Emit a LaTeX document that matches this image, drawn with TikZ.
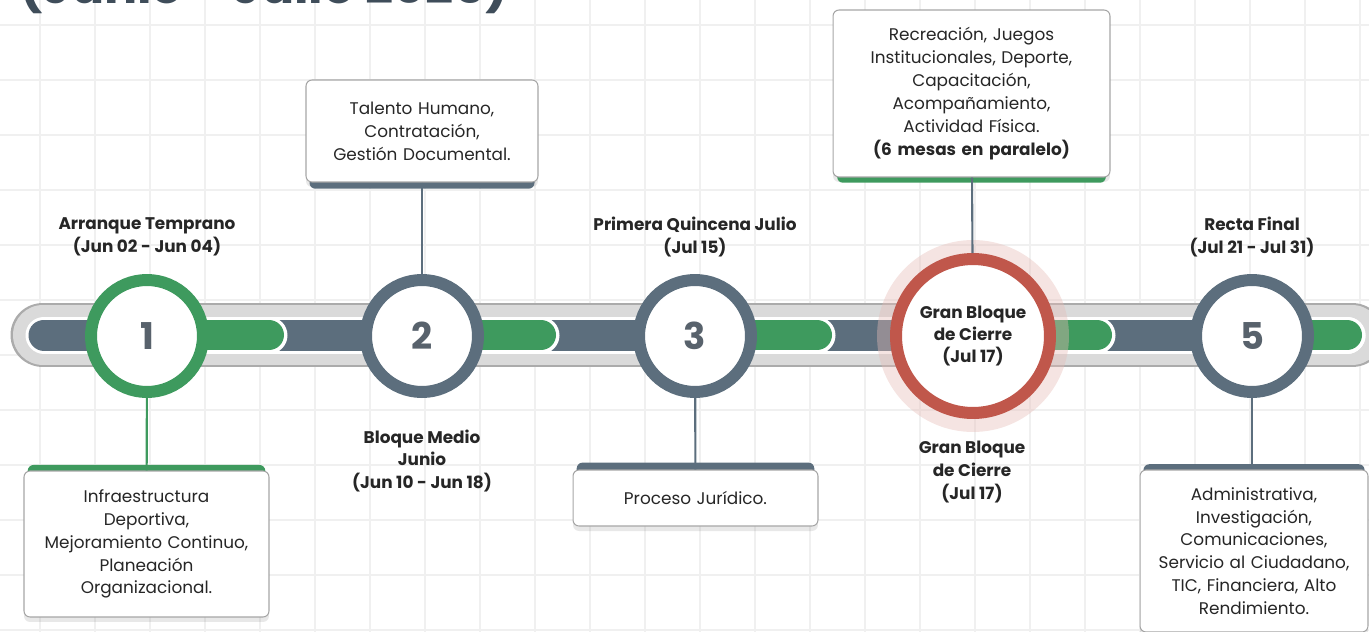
\documentclass[tikz,border=0pt]{standalone}
\usepackage{fontspec}
\setmainfont{Poppins}
\usetikzlibrary{shadows}
\definecolor{grn}{HTML}{3E9A5E}
\definecolor{slate}{HTML}{5C6E7D}
\definecolor{redring}{HTML}{C0574B}
\definecolor{bargrey}{HTML}{DADADA}
\definecolor{baredge}{HTML}{ABABAB}
\definecolor{numgrey}{HTML}{58626C}
\definecolor{txt}{HTML}{262626}
\definecolor{gridc}{HTML}{F0F0F0}
\definecolor{titlec}{HTML}{3F4D5A}
\tikzstyle{gridline} = [gridc, line width=0.7pt]
\tikzstyle{milestone} = [circle, fill=white, line width=0.24cm, minimum size=2.24cm, inner sep=0pt, align=center, text=numgrey, font=\fontsize{21}{21}\selectfont\bfseries, drop shadow={opacity=0.25, shadow xshift=0cm, shadow yshift=-0.06cm}]
\tikzstyle{infobox} = [rectangle, rounded corners=0.12cm, fill=white, draw=black!35, line width=0.6pt, text=txt, align=center, inner sep=0pt, font=\fontsize{9.6}{13}\selectfont, drop shadow={opacity=0.18, shadow xshift=0cm, shadow yshift=-0.1cm}]
\tikzstyle{phase} = [align=center, text=txt, font=\fontsize{9.6}{13}\selectfont\bfseries]
\tikzstyle{link} = [line width=1.2pt]
\tikzset{tabup/.style={general shadow={fill=#1, shadow yshift=0.17cm, shadow scale=0.97}},
         tabdown/.style={general shadow={fill=#1, shadow yshift=-0.17cm, shadow scale=0.97}}}

\begin{document}
\begin{tikzpicture}[x=0.02cm, y=-0.02cm]
			\useasboundingbox (0,0) rectangle (1369,632);
			% grid
			\foreach \gx in {40,95,...,1369} \draw [gridline] (\gx,0) -- (\gx,632);
			\foreach \gy in {25,80,...,632} \draw [gridline] (0,\gy) -- (1369,\gy);
			\node (title) [anchor=base west, text=titlec, font=\fontsize{28}{28}\selectfont\bfseries] at (13,4) {(Junio - Julio 2025)};
			
			% timeline bar
			\draw [baredge, line width=1.30cm, line cap=round] (43,335) -- (1352,335);
			\draw [bargrey, line width=1.20cm, line cap=round] (43,335) -- (1352,335);
			\draw [white, line width=0.74cm, line cap=round] (44,335) -- (1347,335);
			\draw [slate, line width=0.62cm, line cap=round] (44,335) -- (1347,335);
			\foreach \cx/\ex in {147/269, 422/541, 695/817, 973/1097, 1252/1347} {
				\draw [white, line width=0.74cm, line cap=round] (\cx,335) -- (\ex,335);
				\draw [grn, line width=0.60cm, line cap=round] (\cx,335) -- (\ex,335);
			}
			
			\node (c1) [milestone, draw=grn] at (147,336) {1};
			\node (c2) [milestone, draw=slate] at (422,336) {2};
			\node (c3) [milestone, draw=slate] at (695,336) {3};
			\fill [redring!40, opacity=0.4] (973,336) circle [radius=1.92cm];
			\node (c4) [milestone, draw=redring, minimum size=3.08cm, text=txt, font=\fontsize{9.6}{12.5}\selectfont\bfseries] at (973,336) {Gran Bloque\\de Cierre\\(Jul 17)};
			\node (c5) [milestone, draw=slate] at (1252,336) {5};
			
			\node (arranque) [phase] at (147,237) {Arranque Temprano\\(Jun 02 - Jun 04)};
			\node (medio) [phase] at (422,461) {Bloque Medio\\Junio\\(Jun 10 - Jun 18)};
			\node (quincena) [phase] at (695,237) {Primera Quincena Julio\\(Jul 15)};
			\node (cierre) [phase] at (972,472) {Gran Bloque\\de Cierre\\(Jul 17)};
			\node (recta) [phase] at (1252,237) {Recta Final\\(Jul 21 - Jul 31)};
			
			\node (infra) [infobox, tabup=grn, text width=4.9cm, minimum height=2.92cm] at (146.5,544) {Infraestructura\\Deportiva,\\Mejoramiento Continuo,\\Planeación\\Organizacional.};
			\node (talento) [infobox, tabdown=slate, text width=4.64cm, minimum height=2.04cm] at (422,131) {Talento Humano,\\Contratación,\\Gestión Documental.};
			\node (juridico) [infobox, tabup=slate, text width=4.9cm, minimum height=1.12cm] at (695.5,498) {Proceso Jurídico.};
			\node (recreacion) [infobox, tabdown=grn, text width=5.54cm, minimum height=3.34cm] at (971.5,93.5) {Recreación, Juegos\\Institucionales, Deporte,\\Capacitación,\\Acompañamiento,\\Actividad Física.\\\textbf{(6 mesas en paralelo)}};
			\node (admin) [infobox, tabup=slate, text width=4.56cm, minimum height=3.24cm] at (1254,551) {Administrativa,\\Investigación,\\Comunicaciones,\\Servicio al Ciudadano,\\TIC, Financiera, Alto\\Rendimiento.};
			
			\draw [link, grn] (c1) -- (infra);
			\draw [link, slate] (talento) -- (c2);
			\draw [link, slate] (c3) -- (juridico);
			\draw [link, slate] (recreacion) -- (c4);
			\draw [link, slate] (c5) -- (admin.north -| c5);
		\end{tikzpicture}
\end{document}
